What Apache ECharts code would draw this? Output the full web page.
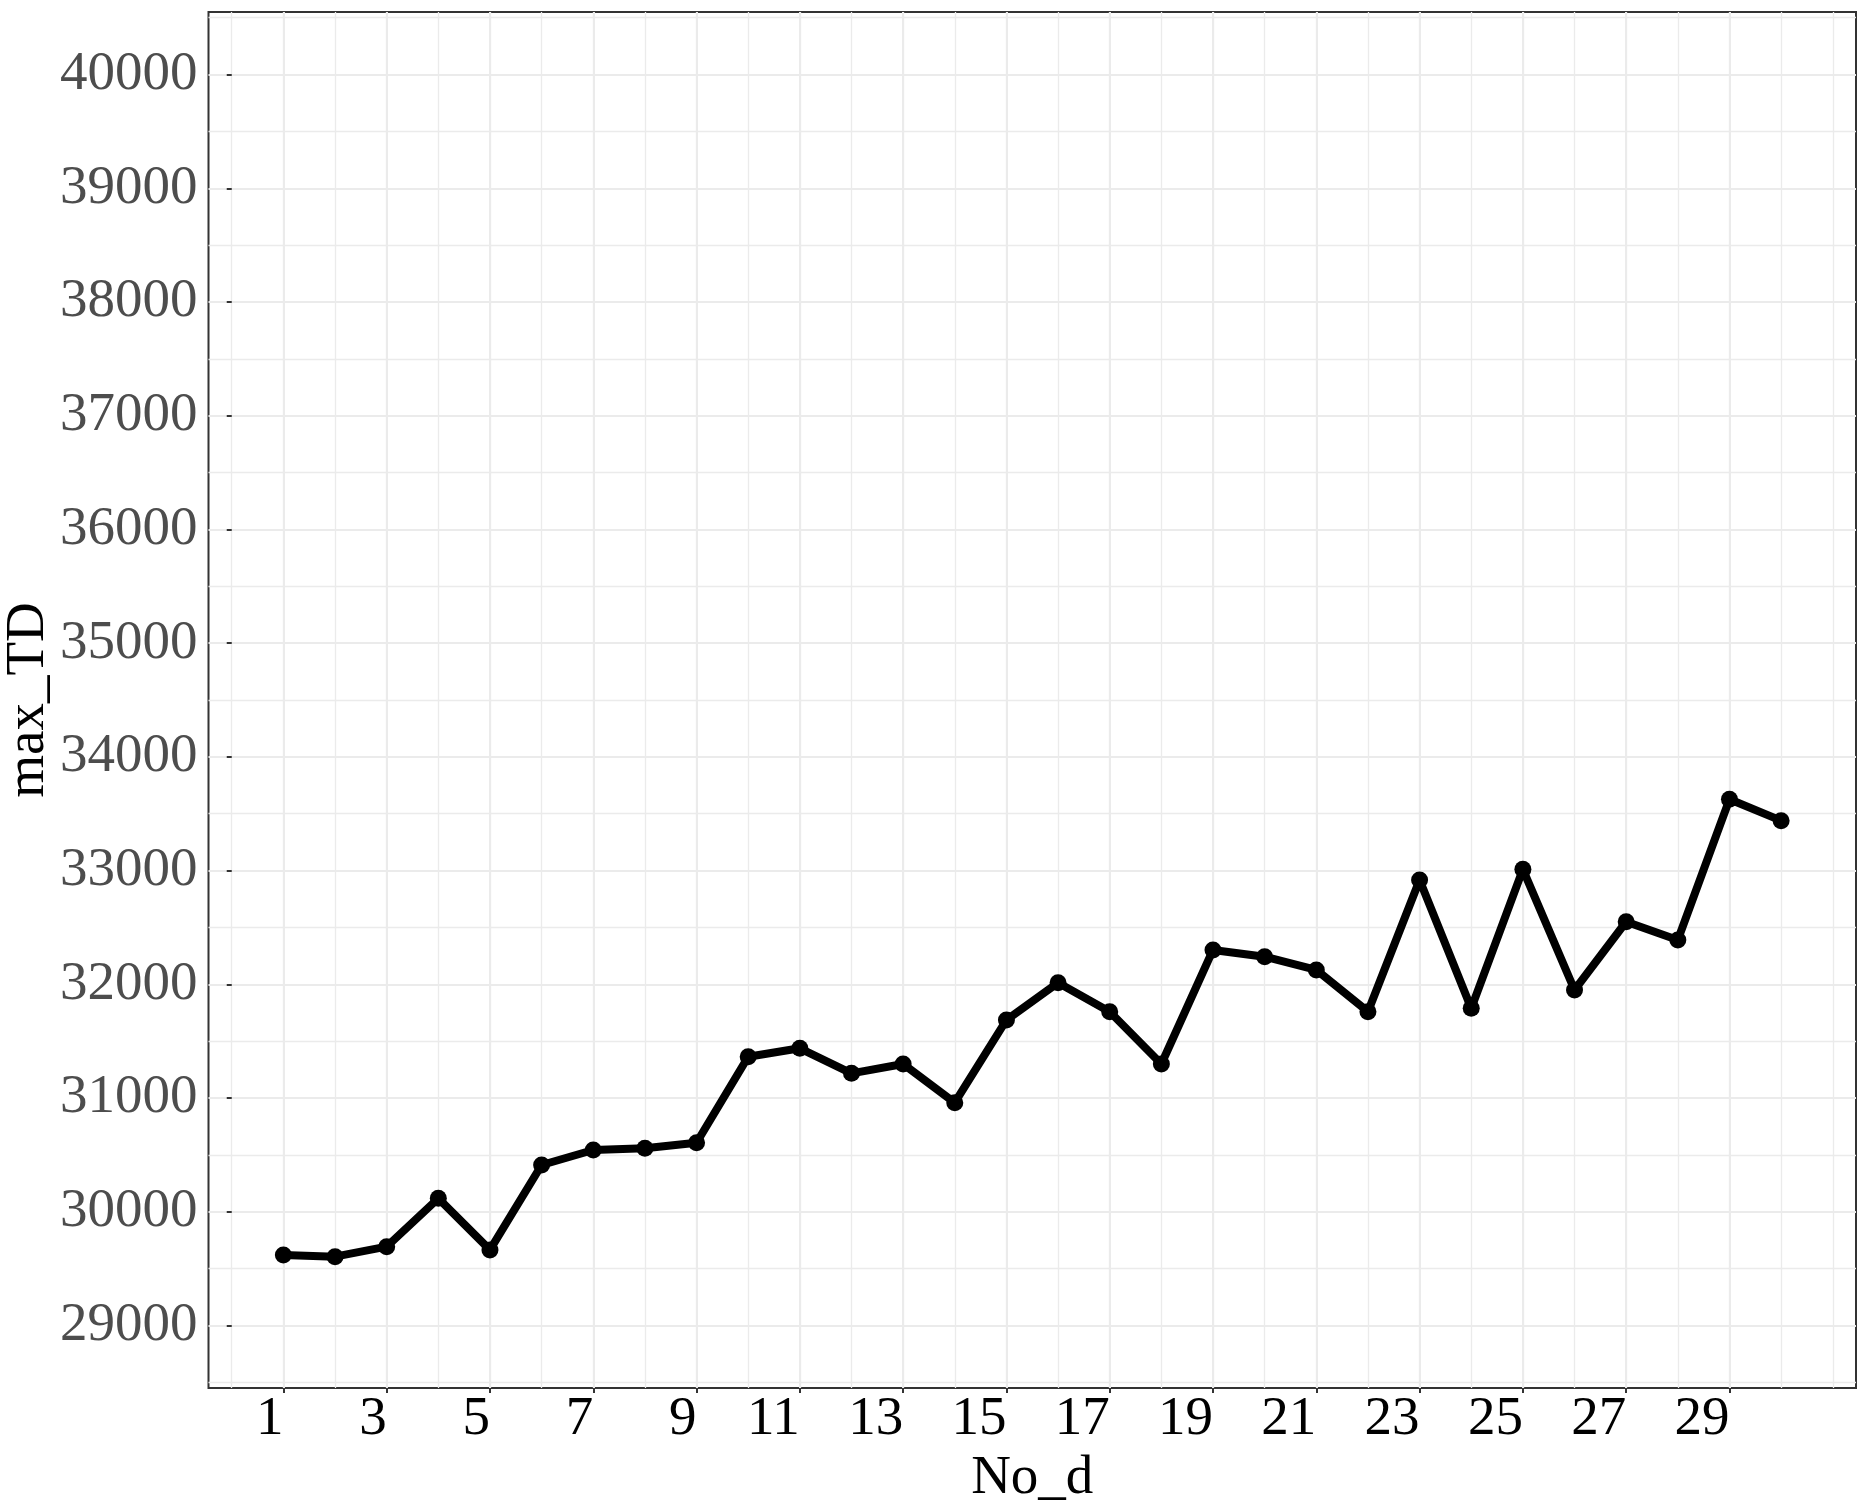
<!DOCTYPE html>
<html>
<head>
    <meta http-equiv="Content-type" content="text/html; charset=utf-8" />
    <title>max_TD</title>
    <script src="https://cdn.jsdelivr.net/npm/echarts@6/dist/echarts.min.js"></script>
    <style>
    html, body {
        margin: 0;
        padding: 0;
        background: #fff;
    }
    #main {
        width: 1868px;
        height: 1507px;
    }
    </style>
</head>
<body>
    <div id="main"></div>
    <script type="text/javascript">
        // data
        var noD = [1, 2, 3, 4, 5, 6, 7, 8, 9, 10, 11, 12, 13, 14, 15,
                   16, 17, 18, 19, 20, 21, 22, 23, 24, 25, 26, 27, 28, 29, 30];
        var maxTD = [29620, 29605, 29693, 30118, 29664, 30411, 30543, 30558, 30607, 31363,
                     31437, 31217, 31299, 30959, 31686, 32014, 31759, 31299, 32302, 32243,
                     32126, 31759, 32917, 31789, 33011, 31950, 32550, 32390, 33627, 33439];

        // tick labels
        var xTicks = [1, 3, 5, 7, 9, 11, 13, 15, 17, 19, 21, 23, 25, 27, 29];
        var yTicks = [29000, 30000, 31000, 32000, 33000, 34000, 35000, 36000, 37000, 38000, 39000, 40000];

        // axis ranges (ggplot style 5% expansion)
        var xMin = -0.45, xMax = 31.45;
        var yMin = 28450, yMax = 40550;

        // minor grid positions
        var xMinor = [];
        for (var i = 0; i <= 31; i++) xMinor.push(i);
        var yMinor = [];
        for (var v = 28500; v <= 40500; v += 1000) yMinor.push(v);

        var font = 'Liberation Serif';
        var gridColor = '#EBEBEB';
        var dark = '#333333';

        var points = noD.map(function (x, i) {
            return [x, maxTD[i]];
        });

        var myChart = echarts.init(document.getElementById('main'), null, {renderer: 'canvas'});

        myChart.setOption({
            animation: false,
            backgroundColor: '#ffffff',
            grid: {
                left: 208.5,
                right: 12,
                top: 12,
                bottom: 119,
                containLabel: false,
                outerBoundsMode: 'none',
                show: true,
                borderColor: dark,
                borderWidth: 2,
                backgroundColor: 'transparent'
            },
            xAxis: [
                {
                    // minor grid, every integer
                    type: 'value',
                    min: xMin,
                    max: xMax,
                    position: 'bottom',
                    axisLine: {show: false},
                    axisTick: {show: false, customValues: xMinor},
                    axisLabel: {show: false, customValues: xMinor},
                    splitLine: {show: true, lineStyle: {color: gridColor, width: 1.3}}
                },
                {
                    // major ticks and labels
                    type: 'value',
                    min: xMin,
                    max: xMax,
                    position: 'bottom',
                    name: 'No_d',
                    nameLocation: 'middle',
                    nameGap: 63,
                    nameMoveOverlap: false,
                    nameTextStyle: {fontFamily: font, fontSize: 55, color: '#000'},
                    axisLine: {show: false},
                    axisTick: {show: true, length: 5, customValues: xTicks,
                        lineStyle: {color: dark, width: 2}},
                    axisLabel: {
                        show: true,
                        customValues: xTicks,
                        fontFamily: font,
                        fontSize: 55,
                        color: '#000',
                        align: 'right',
                        margin: 4,
                        formatter: function (val) { return String(val); }
                    },
                    splitLine: {show: true, lineStyle: {color: gridColor, width: 2}}
                }
            ],
            yAxis: [
                {
                    // minor grid
                    type: 'value',
                    min: yMin,
                    max: yMax,
                    position: 'left',
                    axisLine: {show: false},
                    axisTick: {show: false, customValues: yMinor},
                    axisLabel: {show: false, customValues: yMinor},
                    splitLine: {show: true, lineStyle: {color: gridColor, width: 1.3}}
                },
                {
                    type: 'value',
                    min: yMin,
                    max: yMax,
                    position: 'left',
                    name: 'max_TD',
                    nameLocation: 'middle',
                    nameGap: 152,
                    nameRotate: 90,
                    nameMoveOverlap: false,
                    nameTextStyle: {fontFamily: font, fontSize: 55, color: '#000'},
                    axisLine: {show: false},
                    axisTick: {show: true, length: 5, customValues: yTicks,
                        lineStyle: {color: dark, width: 2}},
                    axisLabel: {
                        show: true,
                        customValues: yTicks,
                        fontFamily: font,
                        fontSize: 55,
                        color: '#4D4D4D',
                        margin: 11,
                        formatter: function (val) { return String(val); }
                    },
                    splitLine: {show: true, lineStyle: {color: gridColor, width: 2}}
                }
            ],
            series: [
                {
                    type: 'line',
                    xAxisIndex: 1,
                    yAxisIndex: 1,
                    data: points,
                    symbol: 'circle',
                    symbolSize: 17,
                    showAllSymbol: true,
                    lineStyle: {color: '#000', width: 8},
                    itemStyle: {color: '#000'},
                    z: 5
                }
            ]
        });
    </script>
</body>
</html>
